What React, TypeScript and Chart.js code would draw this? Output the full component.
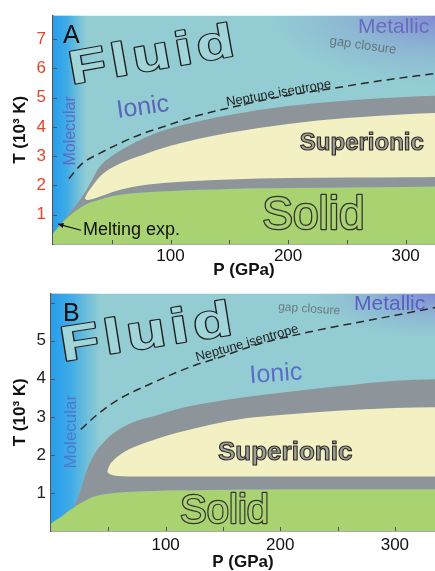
import React, { useEffect, useRef } from "react";
import { Chart, registerables } from "chart.js";

Chart.register(...registerables);

// ---------------- Panel A data (P in GPa, T in 10^3 K) ----------------
const pressureA = [0, 5, 10, 15, 20, 27, 33, 40, 50, 60, 80, 100, 125, 150, 175, 200, 250, 300, 325];
const solidTopA = [0.36, 0.6, 0.82, 1.0, 1.15, 1.33, 1.43, 1.52, 1.63, 1.7, 1.77, 1.81, 1.85, 1.88, 1.9, 1.91, 1.93, 1.95, 1.96];
const grayTopA = [0.36, 0.6, 0.86, 1.1, 1.35, 1.75, 2.17, 2.65, 3.0, 3.25, 3.66, 3.95, 4.2, 4.4, 4.57, 4.71, 4.9, 5.02, 5.06];
const pressureYellowA = [27, 29, 33, 40, 50, 60, 75, 100, 125, 150, 200, 250, 300, 325];
const yellowTopA = [1.55, 1.72, 1.95, 2.3, 2.6, 2.8, 3.02, 3.35, 3.6, 3.8, 4.1, 4.3, 4.43, 4.47];
const yellowBottomA = [1.55, 1.5, 1.53, 1.62, 1.77, 1.88, 2.0, 2.1, 2.16, 2.2, 2.25, 2.27, 2.28, 2.29];
const isentropePA = [13.5, 25, 40, 55, 75, 96, 120, 147, 190, 236, 280, 325];
const isentropeTA = [2.23, 2.75, 3.1, 3.4, 3.75, 4.03, 4.35, 4.62, 5.0, 5.3, 5.58, 5.82];
const yTickLabelsA = [1, 2, 3, 4, 5, 6, 7];

// ---------------- Panel B data ----------------
const pressureB = [0, 5, 10, 15, 20, 25, 30, 37, 45, 55, 70, 90, 110, 140, 170, 200, 250, 300, 335];
const solidTopB = [0.2, 0.3, 0.4, 0.52, 0.62, 0.72, 0.8, 0.9, 0.96, 1.0, 1.03, 1.05, 1.07, 1.08, 1.09, 1.1, 1.1, 1.1, 1.1];
const grayTopB = [0.2, 0.3, 0.4, 0.52, 0.66, 1.0, 1.5, 1.98, 2.3, 2.58, 2.84, 3.02, 3.2, 3.38, 3.52, 3.63, 3.8, 3.95, 3.99];
const pressureYellowB = [49, 51, 55, 62, 72, 90, 110, 140, 170, 200, 250, 300, 335];
const yellowTopB = [1.56, 1.72, 1.87, 2.04, 2.2, 2.4, 2.58, 2.8, 2.96, 3.05, 3.16, 3.23, 3.25];
const yellowBottomB = [1.56, 1.5, 1.46, 1.44, 1.43, 1.43, 1.43, 1.43, 1.43, 1.43, 1.43, 1.43, 1.43];
const isentropePB = [26, 40, 58, 87, 125, 143, 180, 230, 280, 335];
const isentropeTB = [2.67, 3.05, 3.44, 3.87, 4.35, 4.52, 4.9, 5.26, 5.55, 5.87];
const yTickLabelsB = [1, 2, 3, 4, 5];

const xTickLabels = [100, 200, 300];

const FONT = '"Liberation Sans", Arial, Helvetica, sans-serif';
const TEAL = "#93cdd3";
const GREEN = "#a9d270";
const YELLOW = "#f3f0c4";
const GRAY = "#8d959b";

type Label = {
  text: string;
  p: number;
  t: number;
  size: number;
  weight?: string;
  color?: string;
  rot?: number;
  align?: CanvasTextAlign;
  baseline?: CanvasTextBaseline;
  mode?: "fill" | "hollow" | "outline";
  fill?: string;
  stroke?: string;
  lw?: number;
  scaleX?: number;
  spacing?: string;
};

const labelsA: Label[] = [
  { text: "A", p: 8.5, t: 6.85, size: 25, color: "#111" },
  { text: "Fluid", p: 16, t: 5.45, size: 47, weight: "bold", rot: -10, mode: "hollow", fill: "#a0d5da", stroke: "#1d1d1d", lw: 2.2, scaleX: 1.3, spacing: "4px" },
  { text: "Ionic", p: 55, t: 4.3, size: 25, rot: -8, color: "#5b65ba" },
  { text: "Molecular", p: 15.3, t: 3.86, size: 16, rot: -90, align: "center", baseline: "middle", color: "#5a6cc4" },
  { text: "Neptune isentrope", p: 148, t: 4.71, size: 13, rot: -10, color: "#1e1e1e" },
  { text: "gap closure", p: 235, t: 6.81, size: 13, rot: 8, color: "#66767c" },
  { text: "Metallic", p: 259.5, t: 7.19, size: 21, color: "#6a6ac0" },
  { text: "Superionic", p: 210, t: 3.2, size: 24, weight: "bold", mode: "outline", fill: "#a19f92", stroke: "#2c2c2c", lw: 1.1 },
  { text: "Solid", p: 178, t: 0.51, size: 46, mode: "hollow", fill: GREEN, stroke: "#333", lw: 2.6 },
  { text: "Melting exp.", p: 25.5, t: 0.31, size: 18, color: "#111" },
];

const labelsB: Label[] = [
  { text: "B", p: 10.5, t: 5.51, size: 25, color: "#111" },
  { text: "Fluid", p: 10.5, t: 4.46, size: 49, weight: "bold", rot: -9, mode: "hollow", fill: "#a0d5da", stroke: "#1d1d1d", lw: 2.2, scaleX: 1.3, spacing: "4px" },
  { text: "Molecular", p: 17.5, t: 2.61, size: 17, rot: -90, align: "center", baseline: "middle", color: "#4f78cc" },
  { text: "Neptune isentrope", p: 127.4, t: 4.46, size: 13, rot: -16, color: "#1e1e1e" },
  { text: "gap closure", p: 198, t: 5.8, size: 12, rot: 4, color: "#6b7a80" },
  { text: "Metallic", p: 264.4, t: 5.8, size: 21, color: "#5a5ec0" },
  { text: "Ionic", p: 173.6, t: 3.89, size: 25, rot: -4, color: "#5a6ec8" },
  { text: "Superionic", p: 145.7, t: 1.86, size: 26, weight: "bold", mode: "outline", fill: "#a19f92", stroke: "#2c2c2c", lw: 1.1 },
  { text: "Solid", p: 112.6, t: 0.21, size: 40, mode: "hollow", fill: GREEN, stroke: "#333", lw: 2.4 },
];

type PanelSpec = {
  pressure: number[];
  solidTop: number[];
  grayTop: number[];
  pressureYellow: number[];
  yellowTop: number[];
  yellowBottom: number[];
  isoP: number[];
  isoT: number[];
  xMax: number;
  yMax: number;
  yTicks: number[];
  yTickColor: string;
  padTop: number;
  xAxisHeight: number;
  yAxisWidth: number;
  xTickPad: number;
  yTickPad: number;
  xTitlePad: number;
  labels: Label[];
  arrow?: { from: [number, number]; to: [number, number] };
  blueWidth: number;
  metalRx: number;
  metalRy: number;
};

const pts = (xs: number[], ys: number[]) => xs.map((x, i) => ({ x, y: ys[i] }));

function drawLabel(ctx: CanvasRenderingContext2D, chart: any, l: Label) {
  const x = chart.scales.x.getPixelForValue(l.p);
  const y = chart.scales.y.getPixelForValue(l.t);
  ctx.save();
  ctx.translate(x, y);
  ctx.rotate(((l.rot || 0) * Math.PI) / 180);
  ctx.scale(l.scaleX || 1, 1);
  ctx.font = `${l.weight || "normal"} ${l.size}px ${FONT}`;
  (ctx as any).letterSpacing = l.spacing || "0px";
  ctx.textAlign = l.align || "left";
  ctx.textBaseline = l.baseline || "alphabetic";
  ctx.lineJoin = "round";
  if (l.mode === "hollow") {
    ctx.strokeStyle = l.stroke || "#222";
    ctx.lineWidth = l.lw || 2.5;
    ctx.strokeText(l.text, 0, 0);
    ctx.fillStyle = l.fill || "#fff";
    ctx.fillText(l.text, 0, 0);
  } else if (l.mode === "outline") {
    ctx.fillStyle = l.fill || "#999";
    ctx.fillText(l.text, 0, 0);
    ctx.strokeStyle = l.stroke || "#222";
    ctx.lineWidth = l.lw || 1;
    ctx.strokeText(l.text, 0, 0);
  } else {
    ctx.fillStyle = l.color || "#111";
    ctx.fillText(l.text, 0, 0);
  }
  ctx.restore();
}

function makeConfig(s: PanelSpec): any {
  const bgPlugin = {
    id: "phaseBackground",
    beforeDatasetsDraw(chart: any) {
      const { ctx, chartArea: a } = chart;
      ctx.save();
      ctx.beginPath();
      ctx.rect(a.left, a.top, a.width, a.height);
      ctx.clip();
      ctx.fillStyle = TEAL;
      ctx.fillRect(a.left, a.top, a.width, a.height);
      const g = ctx.createLinearGradient(a.left, 0, a.left + s.blueWidth, 0);
      g.addColorStop(0, "rgba(38,158,236,1)");
      g.addColorStop(0.4, "rgba(48,165,234,0.85)");
      g.addColorStop(1, "rgba(60,170,228,0)");
      ctx.fillStyle = g;
      ctx.fillRect(a.left, a.top, s.blueWidth, a.height);
      ctx.translate(a.right, a.top);
      ctx.scale(1, s.metalRy / s.metalRx);
      const r = ctx.createRadialGradient(0, 0, 0, 0, 0, s.metalRx);
      r.addColorStop(0, "rgba(122,120,212,0.8)");
      r.addColorStop(0.5, "rgba(130,140,210,0.35)");
      r.addColorStop(1, "rgba(130,150,210,0)");
      ctx.fillStyle = r;
      ctx.fillRect(-s.metalRx, 0, s.metalRx, s.metalRx);
      ctx.restore();
    },
  };

  const labelPlugin = {
    id: "phaseLabels",
    afterDatasetsDraw(chart: any) {
      const { ctx } = chart;
      s.labels.forEach((l) => drawLabel(ctx, chart, l));
      if (s.arrow) {
        const xs = chart.scales.x;
        const ys = chart.scales.y;
        const x1 = xs.getPixelForValue(s.arrow.from[0]);
        const y1 = ys.getPixelForValue(s.arrow.from[1]);
        const x2 = xs.getPixelForValue(s.arrow.to[0]);
        const y2 = ys.getPixelForValue(s.arrow.to[1]);
        const ang = Math.atan2(y2 - y1, x2 - x1);
        ctx.save();
        ctx.strokeStyle = "#111";
        ctx.fillStyle = "#111";
        ctx.lineWidth = 1.2;
        ctx.beginPath();
        ctx.moveTo(x1, y1);
        ctx.lineTo(x2, y2);
        ctx.stroke();
        ctx.beginPath();
        ctx.moveTo(x2, y2);
        ctx.lineTo(x2 - 6 * Math.cos(ang - 0.45), y2 - 6 * Math.sin(ang - 0.45));
        ctx.lineTo(x2 - 6 * Math.cos(ang + 0.45), y2 - 6 * Math.sin(ang + 0.45));
        ctx.closePath();
        ctx.fill();
        ctx.restore();
      }
    },
    afterDraw(chart: any) {
      const { ctx, chartArea: a } = chart;
      ctx.save();
      ctx.strokeStyle = "#555";
      ctx.lineWidth = 1;
      chart.scales.x.ticks.forEach((tk: any) => {
        const x = Math.round(chart.scales.x.getPixelForValue(tk.value)) + 0.5;
        if (x <= a.left + 1) return;
        ctx.beginPath();
        ctx.moveTo(x, a.bottom);
        ctx.lineTo(x, a.bottom - 4);
        ctx.stroke();
      });
      chart.scales.y.ticks.forEach((tk: any) => {
        const y = Math.round(chart.scales.y.getPixelForValue(tk.value)) + 0.5;
        if (y >= a.bottom - 1) return;
        ctx.beginPath();
        ctx.moveTo(a.left, y);
        ctx.lineTo(a.left + 4, y);
        ctx.stroke();
      });
      ctx.restore();
    },
  };

  const base = {
    pointRadius: 0,
    pointHoverRadius: 0,
    cubicInterpolationMode: "monotone",
    borderWidth: 0,
  };

  return {
    type: "line",
    data: {
      datasets: [
        { ...base, data: pts(s.pressureYellow, s.yellowTop), backgroundColor: YELLOW, borderColor: YELLOW, fill: 1, order: 1 },
        { ...base, data: pts(s.pressureYellow, s.yellowBottom), borderColor: YELLOW, fill: false, order: 2 },
        { ...base, data: pts(s.pressure, s.grayTop), backgroundColor: GRAY, borderColor: GRAY, fill: 3, order: 3 },
        { ...base, data: pts(s.pressure, s.solidTop), backgroundColor: GREEN, borderColor: GREEN, fill: "start", order: 4 },
        {
          ...base,
          data: pts(s.isoP, s.isoT),
          borderColor: "#2a2a2a",
          borderWidth: 1.5,
          borderDash: [8, 5],
          fill: false,
          order: 0,
        },
      ],
    },
    options: {
      responsive: false,
      maintainAspectRatio: false,
      devicePixelRatio: 1,
      animation: false,
      events: [],
      layout: { padding: { top: s.padTop, right: 0, left: 0, bottom: 0 } },
      plugins: { legend: { display: false }, tooltip: { enabled: false }, title: { display: false } },
      scales: {
        x: {
          type: "linear",
          min: 0,
          max: s.xMax,
          afterFit: (sc: any) => {
            sc.height = s.xAxisHeight;
          },
          grid: { display: false, drawTicks: false },
          border: { display: true, color: "#555", width: 1.5 },
          ticks: {
            stepSize: 50,
            includeBounds: false,
            autoSkip: false,
            maxRotation: 0,
            padding: s.xTickPad,
            color: "#111",
            font: { size: 17, family: FONT, lineHeight: 1 },
            callback: (v: number) => (xTickLabels.includes(v) ? String(v) : ""),
          },
          title: {
            display: true,
            text: "P (GPa)",
            color: "#111",
            font: { size: 17, weight: "bold", family: FONT, lineHeight: 1 },
            padding: { top: 0, bottom: s.xTitlePad },
          },
        },
        y: {
          type: "linear",
          min: 0,
          max: s.yMax,
          afterFit: (sc: any) => {
            sc.width = s.yAxisWidth;
          },
          grid: { display: false, drawTicks: false },
          border: { display: true, color: "#555", width: 1.5 },
          ticks: {
            stepSize: 1,
            includeBounds: false,
            autoSkip: false,
            padding: s.yTickPad,
            color: s.yTickColor,
            font: { size: 17, family: FONT, lineHeight: 1 },
            callback: (v: number) => (s.yTicks.includes(v) ? String(v) : ""),
          },
          title: {
            display: true,
            text: "T (10\u00B3 K)",
            color: "#111",
            font: { size: 17, weight: "bold", family: FONT, lineHeight: 1 },
            padding: { top: 12, bottom: 0 },
          },
        },
      },
    },
    plugins: [bgPlugin, labelPlugin],
  };
}

const specA: PanelSpec = {
  pressure: pressureA,
  solidTop: solidTopA,
  grayTop: grayTopA,
  pressureYellow: pressureYellowA,
  yellowTop: yellowTopA,
  yellowBottom: yellowBottomA,
  isoP: isentropePA,
  isoT: isentropeTA,
  xMax: 325,
  yMax: 7.8,
  yTicks: yTickLabelsA,
  yTickColor: "#e8432c",
  padTop: 14,
  xAxisHeight: 36,
  yAxisWidth: 53,
  xTickPad: 4,
  yTickPad: 7,
  xTitlePad: 1,
  labels: labelsA,
  arrow: { from: [23.8, 0.47], to: [4.3, 0.68] },
  blueWidth: 34,
  metalRx: 170,
  metalRy: 70,
};

const specB: PanelSpec = {
  pressure: pressureB,
  solidTop: solidTopB,
  grayTop: grayTopB,
  pressureYellow: pressureYellowB,
  yellowTop: yellowTopB,
  yellowBottom: yellowBottomB,
  isoP: isentropePB,
  isoT: isentropeTB,
  xMax: 335,
  yMax: 6.24,
  yTicks: yTickLabelsB,
  yTickColor: "#222",
  padTop: 12,
  xAxisHeight: 40,
  yAxisWidth: 51,
  xTickPad: 6,
  yTickPad: 5,
  xTitlePad: 0,
  labels: labelsB,
  blueWidth: 50,
  metalRx: 130,
  metalRy: 45,
};

function PhasePanel({ spec, width, height }: { spec: PanelSpec; width: number; height: number }) {
  const ref = useRef<HTMLCanvasElement>(null);
  useEffect(() => {
    if (!ref.current) return;
    const chart = new Chart(ref.current, makeConfig(spec));
    return () => chart.destroy();
  }, [spec]);
  return <canvas ref={ref} width={width} height={height} style={{ display: "block", width, height }} />;
}

export default function App() {
  return (
    <div style={{ position: "absolute", left: 0, top: 0, width: 435, height: 571, background: "#fff", overflow: "hidden" }}>
      <PhasePanel spec={specA} width={435} height={280} />
      <PhasePanel spec={specB} width={435} height={291} />
    </div>
  );
}
